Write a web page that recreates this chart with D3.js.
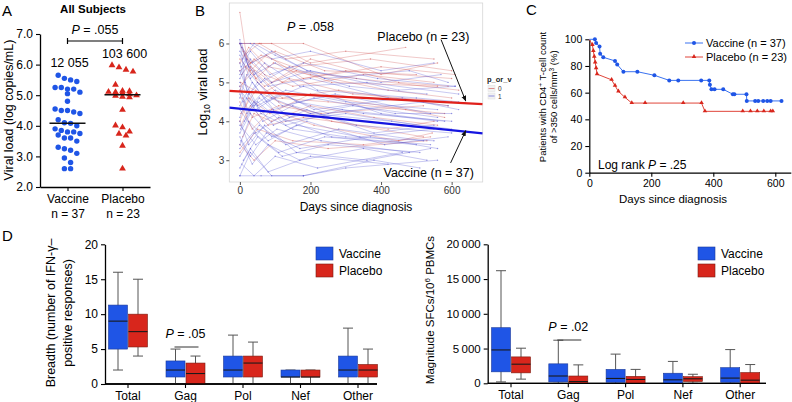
<!DOCTYPE html>
<html><head><meta charset="utf-8">
<script src="https://cdn.jsdelivr.net/npm/d3@7"></script>
<style>
body{margin:0;background:#fff}
svg{font-family:"Liberation Sans",Arial,Helvetica,sans-serif}
</style></head><body>
<svg id="chart" width="792" height="402"></svg>
<script>
// ---------------- DATA ----------------
// Panel A
const groupsA = ["Vaccine", "Placebo"];
const groupNsA = ["n = 37", "n = 23"];
const vaccineVL = [5.65,5.55,5.5,5.45,5.25,5.25,5.2,5.2,5.1,5.05,4.8,4.55,4.5,4.5,4.45,4.4,4.2,4.1,4.08,4.0,3.9,3.85,3.8,3.8,3.75,3.7,3.6,3.6,3.5,3.3,3.25,3.2,3.1,2.95,2.8,2.6,2.6];
const placeboVL = [6.0,5.93,5.85,5.79,5.36,5.16,5.15,5.13,5.12,5.1,5.05,5.015,5.0,4.97,4.95,4.54,4.03,3.97,3.83,3.76,3.7,3.37,2.62];
const mediansA = [4.081, 5.015];
const medianLabelsA = ["12 055", "103 600"];
const yTicksA = [2,3,4,5,6,7];

// Panel B (day, log10 viral load)
const placeboTraj = [
 [[0,6.0],[60,6.0],[180,6.0],[400,5.2],[560,5.5]],
 [[5,5.2],[40,5.6],[120,5.0],[300,5.3],[600,5.1]],
 [[0,4.8],[30,5.4],[90,5.0],[200,5.6],[450,5.0],[590,4.9]],
 [[10,5.8],[50,5.0],[100,4.6],[250,4.5],[580,4.2]],
 [[0,6.8],[20,5.6],[70,5.2],[150,4.9],[350,5.2],[550,5.0]],
 [[3,4.2],[45,4.8],[110,4.5],[260,4.0],[520,3.6]],
 [[0,5.5],[25,5.9],[80,5.4],[200,5.2],[420,4.8],[600,4.6]],
 [[8,3.6],[40,4.2],[90,4.0],[200,4.4],[380,4.1],[560,3.9]],
 [[0,6.0],[30,5.5],[100,5.8],[240,5.3],[500,5.2]],
 [[2,5.0],[60,4.7],[140,5.1],[320,4.7],[600,4.5]],
 [[0,4.5],[35,3.8],[90,4.3],[210,3.9],[450,3.5],[545,3.7]],
 [[12,5.7],[55,6.0],[130,5.6],[300,5.8],[550,5.6]],
 [[0,3.2],[50,3.8],[150,3.5],[350,3.4],[540,3.6]],
 [[5,5.9],[30,5.3],[75,5.7],[180,5.1],[400,5.4],[610,5.2]],
 [[0,4.9],[40,5.3],[120,4.6],[280,4.8],[590,4.4]],
 [[15,5.4],[70,4.9],[160,5.3],[330,5.1],[620,4.8]],
 [[0,4.0],[25,4.6],[85,4.2],[200,4.7],[470,4.3],[580,4.1]],
 [[0,5.6],[45,5.1],[95,5.5],[260,5.0],[560,4.9]],
 [[3,3.9],[30,4.4],[80,3.9],[180,4.1],[420,3.8],[550,4.0]],
 [[0,5.3],[60,5.7],[150,5.4],[370,5.6],[600,5.3]],
 [[7,4.6],[35,4.1],[110,4.4],[230,4.2],[520,4.4]],
 [[0,6.0],[90,6.0],[200,5.5],[470,5.9]],
 [[0,3.4],[40,3.0],[100,3.5],[250,3.3],[530,3.5]]
];
const vaccineTraj = [
 [[0,2.6],[60,2.6],[180,2.6],[300,2.8],[560,3.0]],
 [[0,5.5],[20,4.8],[60,4.2],[150,3.8],[300,3.6],[550,3.5]],
 [[5,6.0],[30,5.2],[90,4.6],[200,4.2],[430,4.0],[600,3.8]],
 [[0,4.0],[25,3.4],[70,3.9],[160,3.2],[360,3.0],[540,3.3]],
 [[0,5.8],[40,5.2],[100,5.5],[220,4.8],[500,4.6],[620,4.5]],
 [[10,3.0],[50,3.6],[120,3.1],[250,3.4],[510,3.2]],
 [[0,4.6],[20,5.2],[75,4.5],[180,4.9],[400,4.2],[580,4.0]],
 [[0,6.1],[15,5.0],[50,4.4],[130,4.8],[300,4.5],[560,4.3]],
 [[3,3.5],[35,2.9],[80,3.4],[170,3.0],[350,3.3],[530,3.0]],
 [[0,5.1],[30,5.6],[90,5.0],[200,5.3],[450,4.8],[610,4.9]],
 [[0,4.3],[45,3.7],[110,4.1],[260,3.6],[540,3.4]],
 [[8,5.6],[40,6.0],[100,5.7],[240,5.1],[480,5.3],[590,5.0]],
 [[0,2.8],[30,3.3],[80,2.7],[200,3.1],[420,2.9]],
 [[0,4.9],[20,4.3],[60,4.7],[140,4.1],[320,4.4],[560,4.1]],
 [[2,3.8],[40,4.5],[95,3.9],[190,4.3],[380,3.7],[550,3.9]],
 [[0,5.3],[25,4.7],[70,5.1],[160,4.5],[350,4.2],[600,4.0]],
 [[0,3.3],[55,3.9],[130,3.4],[280,3.8],[520,3.5]],
 [[6,5.9],[35,5.5],[90,5.8],[190,5.3],[400,5.0],[570,5.2]],
 [[0,4.1],[20,4.6],[65,4.0],[150,4.4],[330,3.9],[600,3.7]],
 [[0,3.6],[30,3.1],[75,3.7],[170,3.3],[370,3.6],[560,3.3]],
 [[0,5.0],[40,4.4],[100,4.8],[210,4.3],[460,4.6],[620,4.3]],
 [[10,4.5],[50,5.0],[120,4.4],[270,4.7],[540,4.2]],
 [[0,2.6],[30,3.2],[90,2.6],[180,2.6],[380,3.0],[510,2.8]],
 [[0,6.0],[25,5.4],[80,4.9],[200,5.1],[420,4.6],[590,4.4]],
 [[0,3.9],[45,3.4],[105,3.8],[230,3.5],[480,3.2]],
 [[4,5.4],[30,5.8],[85,5.2],[180,5.5],[390,5.1],[610,4.9]],
 [[0,4.7],[20,4.2],[55,4.6],[130,4.0],[300,4.2],[570,3.8]],
 [[0,3.1],[40,3.7],[110,3.2],[240,3.6],[500,3.4]],
 [[0,5.7],[30,5.1],[70,5.5],[170,4.9],[360,5.0],[620,4.7]],
 [[12,4.0],[50,4.5],[130,3.9],[290,4.3],[560,4.0]],
 [[0,3.4],[25,4.0],[80,3.5],[160,3.9],[340,3.6],[550,3.8]],
 [[0,4.4],[35,5.0],[95,4.3],[210,4.6],[440,4.2],[600,4.2]],
 [[0,5.2],[20,5.6],[60,5.0],[140,5.4],[310,4.9],[530,4.7]],
 [[5,2.9],[40,2.6],[100,3.1],[220,2.8],[460,3.2]],
 [[0,6.0],[30,6.0],[90,5.6],[200,5.8],[400,5.3],[550,5.5]],
 [[0,3.7],[30,4.2],[90,3.6],[190,4.0],[410,3.4],[590,3.6]],
 [[0,4.8],[45,4.3],[115,4.7],[250,4.2],[520,4.5]]
];
const placeboFit = [4.766, -0.000474]; // intercept, slope per day
const vaccineFit = [4.323, -0.000919];
const xTicksB = [0,200,400,600];
const yTicksB = [3,4,5,6];

// Panel C (day, % with CD4 > 350)
const kmVaccine = [[0,100],[18,100],[22,97.3],[33,94.6],[35,89.2],[45,86.5],[83,83.8],[90,81.1],[110,75.7],[155,75.7],[210,73],[258,69.2],[287,69.2],[361,69.2],[387,69.2],[389,65.9],[394,62.5],[404,62.5],[432,62.5],[463,58.8],[468,58.8],[507,58.8],[508,53.8],[535,53.8],[545,53.8],[561,53.8],[574,53.8],[585,53.8],[620,53.8]];
const kmPlacebo = [[0,100],[10,95.7],[13,91.3],[16,87],[19,82.6],[22,78.3],[25,73.9],[72,69.6],[83,65.2],[94,60.9],[115,56.5],[137,52.2],[180,52.2],[303,52.2],[362,52.2],[373,46],[495,46],[520,46],[542,46],[563,46],[585,46],[592,46]];
const xTicksC = [0,200,400,600];
const yTicksC = [0,20,40,60,80,100];

// Panel D  [min, q1, median, q3, max]
const categoriesD = ["Total","Gag","Pol","Nef","Other"];
const breadthVaccine = [[2,5,9,11.3,16],[0,1,2,3.3,5],[0,1,2,4,7],[0,1,1,2,2],[0,1,2,4,8]];
const breadthPlacebo = [[4,5.3,7.5,10,15],[0,0,1.5,3,4],[0,1,3,4,6],[0,1,1,2,2],[0,1,2,2.8,5]];
const magnitudeVaccine = [[200,1650,4800,8000,16200],[0,200,1050,2800,6200],[0,150,700,2000,4200],[0,0,500,1450,3150],[0,150,750,2250,4850]];
const magnitudePlacebo = [[600,1500,2750,3800,5050],[0,0,250,1050,2650],[0,0,550,1000,2000],[0,250,650,950,1300],[0,0,450,1550,2700]];
const yTicksBreadth = [0,5,10,15,20];
const yTicksMagnitude = [0,5000,10000,15000,20000];

// ---------------- STYLE ----------------
const BLUE = "#1f55e6", RED = "#d8261c";
const svg = d3.select("#chart");

function panelLabel(t, x, y) {
  svg.append("text").attr("x", x).attr("y", y).attr("font-size", 15).text(t);
}
function styleAxis(g, fs) {
  g.selectAll("path.domain").attr("stroke", "#000").attr("stroke-width", 1.3);
  g.selectAll(".tick line").attr("stroke", "#000").attr("stroke-width", 1.1);
  g.selectAll(".tick text").attr("font-size", fs).attr("fill", "#000").attr("font-family", null);
}
function pText(g, x, y, rest, fs, anchor) {
  const t = g.append("text").attr("x", x).attr("y", y).attr("font-size", fs).attr("text-anchor", anchor || "middle");
  t.append("tspan").attr("font-style", "italic").text("P");
  t.append("tspan").text(rest);
  return t;
}

// ---------------- PANEL A ----------------
panelLabel("A", 2, 16);
svg.append("text").attr("x", 93).attr("y", 13).attr("text-anchor", "middle")
  .attr("font-size", 11.5).attr("font-weight", "bold").text("All Subjects");
const aY = d3.scaleLinear().domain([2, 7]).range([187, 34]);
const aX = d3.scalePoint().domain(groupsA).range([40, 150]).padding(0.5);
const aYAxis = svg.append("g").attr("transform", "translate(40,0)")
  .call(d3.axisLeft(aY).tickValues(yTicksA).tickSize(4).tickSizeOuter(0).tickPadding(3));
styleAxis(aYAxis, 12);
const aXAxis = svg.append("g").attr("transform", "translate(0,187)")
  .call(d3.axisBottom(aX).tickSize(4).tickSizeOuter(0).tickPadding(3));
styleAxis(aXAxis, 12);
aXAxis.selectAll(".tick text").each(function(d, i) {
  const t = d3.select(this); t.text(null);
  t.append("tspan").attr("x", 0).attr("dy", "0.71em").text(d);
  t.append("tspan").attr("x", 0).attr("dy", "1.25em").text(groupNsA[i]);
});
svg.append("text").attr("transform", "translate(13,110) rotate(-90)").attr("text-anchor", "middle")
  .attr("font-size", 12.5).text("Viral load (log copies/mL)");

// Prism-style row scatter: group close values into rows, spread each row evenly
function rowScatter(values, yScale, cx, h, maxN, spacing) {
  const sorted = values.slice().sort((a, b) => b - a);
  const rows = [];
  sorted.forEach(v => {
    const r = rows[rows.length - 1];
    if (r && r[0] - v <= h && r.length < maxN) r.push(v); else rows.push([v]);
  });
  const pts = [];
  rows.forEach(r => r.forEach((v, i) => pts.push({ v, y: yScale(v), x: cx + (i - (r.length - 1) / 2) * spacing })));
  return pts;
}
const vPts = rowScatter(vaccineVL, aY, aX("Vaccine"), 0.22, 5, 6.2);
svg.append("g").selectAll("circle").data(vPts).join("circle")
  .attr("cx", d => d.x).attr("cy", d => d.y).attr("r", 2.7).attr("fill", BLUE);
const pPts = rowScatter(placeboVL, aY, aX("Placebo"), 0.22, 5, 7);
svg.append("g").selectAll("path").data(pPts).join("path")
  .attr("transform", d => `translate(${d.x},${d.y + 0.6})`)
  .attr("d", d3.symbol(d3.symbolTriangle).size(20)).attr("fill", RED);
groupsA.forEach((gname, i) => {
  const cx = aX(gname);
  svg.append("line").attr("x1", cx - 18).attr("x2", cx + 18)
    .attr("y1", aY(mediansA[i])).attr("y2", aY(mediansA[i])).attr("stroke", "#111").attr("stroke-width", 1.6);
});
svg.append("text").attr("x", aX("Vaccine") + 2).attr("y", 67).attr("text-anchor", "middle").attr("font-size", 12.5).text(medianLabelsA[0]);
svg.append("text").attr("x", aX("Placebo") + 2).attr("y", 58).attr("text-anchor", "middle").attr("font-size", 12.5).text(medianLabelsA[1]);
const brY = 41;
svg.append("path").attr("d", `M${aX("Vaccine")},${brY - 3}V${brY + 3}M${aX("Vaccine")},${brY}H${aX("Placebo")}M${aX("Placebo")},${brY - 3}V${brY + 3}`)
  .attr("stroke", "#000").attr("stroke-width", 1.2).attr("fill", "none");
pText(svg, (aX("Vaccine") + aX("Placebo")) / 2, 34, " = .055", 12.5);

// ---------------- PANEL B ----------------
panelLabel("B", 195, 16);
const bX = d3.scaleLinear().domain([-30, 688]).range([229.3, 482.7]);
const bY = d3.scaleLinear().domain([2.44, 7.04]).range([182, 3]);
svg.append("rect").attr("x", 229.3).attr("y", 3).attr("width", 253.4).attr("height", 179)
  .attr("fill", "#fff").attr("stroke", "#d6d6d6").attr("stroke-width", 0.8);
svg.append("clipPath").attr("id", "bclip").append("rect")
  .attr("x", 229.3).attr("y", 3).attr("width", 253.4).attr("height", 179);
const bG = svg.append("g").attr("clip-path", "url(#bclip)");
const lineB = d3.line().x(d => bX(d[0])).y(d => bY(d[1]));
function drawTraj(data, color) {
  bG.append("g").selectAll("path").data(data).join("path")
    .attr("d", lineB).attr("fill", "none").attr("stroke", color).attr("stroke-width", 0.6).attr("stroke-opacity", 0.5);
  bG.append("g").selectAll("circle").data(data.flat()).join("circle")
    .attr("cx", d => bX(d[0])).attr("cy", d => bY(d[1])).attr("r", 0.7).attr("fill", color).attr("fill-opacity", 0.55);
}
drawTraj(placeboTraj, "#cc4a4a");
drawTraj(vaccineTraj, "#4a4ad0");
const [bx0, bx1] = bX.domain();
function fitLine(fit, color) {
  bG.append("line").attr("x1", bX(bx0)).attr("x2", bX(bx1))
    .attr("y1", bY(fit[0] + fit[1] * bx0)).attr("y2", bY(fit[0] + fit[1] * bx1))
    .attr("stroke", color).attr("stroke-width", 2.2);
}
fitLine(placeboFit, "#e0201b");
fitLine(vaccineFit, "#1515e0");
const bXAxis = svg.append("g").attr("transform", "translate(0,182)")
  .call(d3.axisBottom(bX).tickValues(xTicksB).tickSize(3).tickSizeOuter(0).tickPadding(2).tickFormat(d3.format("d")));
bXAxis.select("path.domain").remove();
bXAxis.selectAll(".tick line").attr("stroke", "#555");
bXAxis.selectAll(".tick text").attr("font-size", 10).attr("fill", "#333").attr("font-family", null);
const bYAxis = svg.append("g").attr("transform", "translate(229.3,0)")
  .call(d3.axisLeft(bY).tickValues(yTicksB).tickSize(3).tickSizeOuter(0).tickPadding(2).tickFormat(d3.format("d")));
bYAxis.select("path.domain").remove();
bYAxis.selectAll(".tick line").attr("stroke", "#555");
bYAxis.selectAll(".tick text").attr("font-size", 10).attr("fill", "#333").attr("font-family", null);
const bYl = svg.append("text").attr("transform", "translate(207,92) rotate(-90)").attr("text-anchor", "middle").attr("font-size", 13);
bYl.append("tspan").text("Log");
bYl.append("tspan").attr("font-size", 8.5).attr("dy", 3).text("10");
bYl.append("tspan").attr("dy", -3).text(" viral load");
svg.append("text").attr("x", 356).attr("y", 211).attr("text-anchor", "middle").attr("font-size", 12).text("Days since diagnosis");
pText(svg, bX(200), 31, " = .058", 12.5);
svg.append("text").attr("x", bX(520)).attr("y", 41).attr("text-anchor", "middle").attr("font-size", 12.5).text("Placebo (n = 23)");
svg.append("text").attr("x", bX(535)).attr("y", 177).attr("text-anchor", "middle").attr("font-size", 12.5).text("Vaccine (n = 37)");
svg.append("defs").append("marker").attr("id", "arr").attr("viewBox", "0 0 10 10").attr("refX", 9).attr("refY", 5)
  .attr("markerWidth", 6).attr("markerHeight", 6).attr("orient", "auto-start-reverse")
  .append("path").attr("d", "M0,1L10,5L0,9Z").attr("fill", "#111");
svg.append("line").attr("x1", bX(570)).attr("y1", bY(6.1)).attr("x2", bX(640)).attr("y2", bY(4.52))
  .attr("stroke", "#111").attr("stroke-width", 1).attr("marker-end", "url(#arr)");
svg.append("line").attr("x1", bX(597)).attr("y1", bY(2.93)).attr("x2", bX(640)).attr("y2", bY(3.76))
  .attr("stroke", "#111").attr("stroke-width", 1).attr("marker-end", "url(#arr)");
svg.append("text").attr("x", 487).attr("y", 82).attr("font-size", 7.5).attr("font-weight", "bold").attr("fill", "#222").text("p_or_v");
[["0", "#cc4a4a"], ["1", "#4a4ad0"]].forEach((k, i) => {
  const y0 = 85.5 + i * 7.5;
  svg.append("rect").attr("x", 488).attr("y", y0).attr("width", 7).attr("height", 6).attr("fill", "#f2f2f2").attr("stroke", "#ddd").attr("stroke-width", 0.5);
  svg.append("line").attr("x1", 488.5).attr("x2", 494.5).attr("y1", y0 + 3).attr("y2", y0 + 3).attr("stroke", k[1]).attr("stroke-width", 0.6);
  svg.append("text").attr("x", 498).attr("y", y0 + 5.5).attr("font-size", 6.5).attr("fill", "#333").text(k[0]);
});

// ---------------- PANEL C ----------------
panelLabel("C", 526, 15);
const cX = d3.scaleLinear().domain([0, 650]).range([589.3, 790.8]);
const cY = d3.scaleLinear().domain([0, 100]).range([172.7, 39.3]);
const cXAxis = svg.append("g").attr("transform", "translate(0,172.7)")
  .call(d3.axisBottom(cX).tickValues(xTicksC).tickSize(4).tickSizeOuter(0).tickPadding(3));
styleAxis(cXAxis, 10.5);
const cYAxis = svg.append("g").attr("transform", "translate(589.3,0)")
  .call(d3.axisLeft(cY).tickValues(yTicksC).tickSize(4).tickSizeOuter(0).tickPadding(3));
styleAxis(cYAxis, 10.5);
cXAxis.select("path.domain").attr("stroke-width", 1.2);
cYAxis.select("path.domain").attr("stroke-width", 1.2);
const lineC = d3.line().x(d => cX(d[0])).y(d => cY(d[1]));
svg.append("path").datum(kmPlacebo).attr("d", lineC).attr("fill", "none").attr("stroke", "#e0453a").attr("stroke-width", 1);
svg.append("path").datum(kmVaccine).attr("d", lineC).attr("fill", "none").attr("stroke", "#3a72f0").attr("stroke-width", 1);
svg.append("g").selectAll("path").data(kmPlacebo.slice(1)).join("path")
  .attr("transform", d => `translate(${cX(d[0])},${cY(d[1]) - 0.3})`)
  .attr("d", d3.symbol(d3.symbolTriangle).size(9)).attr("fill", "#d8261c");
svg.append("g").selectAll("circle").data(kmVaccine.slice(1)).join("circle")
  .attr("cx", d => cX(d[0])).attr("cy", d => cY(d[1])).attr("r", 2).attr("fill", "#1f55e6");
const cYl = svg.append("text").attr("transform", "translate(546,97) rotate(-90)").attr("text-anchor", "middle").attr("font-size", 9.5);
cYl.append("tspan").text("Patients with CD4");
cYl.append("tspan").attr("font-size", 6.5).attr("dy", -3.5).text("+");
cYl.append("tspan").attr("dy", 3.5).text(" T-cell count");
const cYl2 = svg.append("text").attr("transform", "translate(557,97) rotate(-90)").attr("text-anchor", "middle").attr("font-size", 9.5);
cYl2.append("tspan").text("of >350 cells/mm");
cYl2.append("tspan").attr("font-size", 6.5).attr("dy", -3.5).text("3");
cYl2.append("tspan").attr("dy", 3.5).text(" (%)");
svg.append("text").attr("x", 673).attr("y", 203).attr("text-anchor", "middle").attr("font-size", 11.5).text("Days since diagnosis");
const lr = svg.append("text").attr("x", 598).attr("y", 169).attr("font-size", 12);
lr.append("tspan").text("Log rank ");
lr.append("tspan").attr("font-style", "italic").text("P");
lr.append("tspan").text(" = .25");
[["Vaccine (n = 37)", "#3a72f0", "c", 43], ["Placebo (n = 23)", "#e0453a", "t", 57]].forEach(k => {
  svg.append("line").attr("x1", 685).attr("x2", 703).attr("y1", k[3]).attr("y2", k[3]).attr("stroke", k[1]).attr("stroke-width", 1);
  if (k[2] === "c") svg.append("circle").attr("cx", 694).attr("cy", k[3]).attr("r", 2).attr("fill", "#1f55e6");
  else svg.append("path").attr("transform", `translate(694,${k[3] - 0.3})`).attr("d", d3.symbol(d3.symbolTriangle).size(9)).attr("fill", "#d8261c");
  svg.append("text").attr("x", 706).attr("y", k[3] + 4).attr("font-size", 11).text(k[0]);
});

// ---------------- PANEL D ----------------
panelLabel("D", 2, 241);
function boxPanel(cfg) {
  const x = d3.scaleBand().domain(categoriesD).range(cfg.xr).paddingInner(0);
  const y = d3.scaleLinear().domain(cfg.ydom).range(cfg.yr);
  const g = svg.append("g");
  const xa = g.append("g").attr("transform", `translate(0,${cfg.yr[0]})`)
    .call(d3.axisBottom(x).tickSize(4).tickSizeOuter(0).tickPadding(3));
  xa.select("path.domain").attr("d", `M${cfg.axisX[0]},0H${cfg.axisX[1]}`);
  styleAxis(xa, 12);
  const ya = g.append("g").attr("transform", `translate(${cfg.axisX[0]},0)`)
    .call(d3.axisLeft(y).tickValues(cfg.ticks).tickSize(4).tickSizeOuter(0).tickPadding(3).tickFormat(cfg.fmt));
  styleAxis(ya, cfg.fs);
  const bw = 19;
  [[cfg.vac, BLUE, "#1b3a99", -1], [cfg.pla, RED, "#7a1d12", 1]].forEach(s => {
    const gg = g.append("g").selectAll("g").data(s[0].map((d, i) => ({ d, c: categoriesD[i] }))).join("g")
      .attr("transform", o => {
        const cx = x(o.c) + x.bandwidth() / 2;
        return `translate(${s[3] < 0 ? cx - bw - 0.5 : cx + 0.5},0)`;
      });
    gg.append("line").attr("x1", bw / 2).attr("x2", bw / 2).attr("y1", o => y(o.d[0])).attr("y2", o => y(o.d[4]))
      .attr("stroke", "#555").attr("stroke-width", 1);
    gg.append("line").attr("x1", bw / 2 - 5).attr("x2", bw / 2 + 5).attr("y1", o => y(o.d[4])).attr("y2", o => y(o.d[4]))
      .attr("stroke", "#555").attr("stroke-width", 1);
    gg.append("line").attr("x1", bw / 2 - 5).attr("x2", bw / 2 + 5).attr("y1", o => y(o.d[0])).attr("y2", o => y(o.d[0]))
      .attr("stroke", "#555").attr("stroke-width", 1);
    gg.append("rect").attr("x", 0).attr("width", bw).attr("y", o => y(o.d[3])).attr("height", o => Math.max(0.5, y(o.d[1]) - y(o.d[3])))
      .attr("fill", s[1]).attr("stroke", s[2]).attr("stroke-width", 0.6);
    gg.append("line").attr("x1", 0).attr("x2", bw).attr("y1", o => y(o.d[2])).attr("y2", o => y(o.d[2]))
      .attr("stroke", "#1a1a1a").attr("stroke-width", 1.1);
  });
  g.append("line").attr("x1", cfg.axisX[0]).attr("x2", cfg.axisX[1]).attr("y1", cfg.yr[0]).attr("y2", cfg.yr[0]).attr("stroke", "#000").attr("stroke-width", 1.3);
  [["Vaccine", BLUE, "#1b3a99"], ["Placebo", RED, "#7a1d12"]].forEach((k, i) => {
    const yy = 247 + i * 17;
    g.append("rect").attr("x", cfg.legX).attr("y", yy).attr("width", 17).attr("height", 13).attr("fill", k[1]).attr("stroke", k[2]).attr("stroke-width", 0.6);
    g.append("text").attr("x", cfg.legX + 23).attr("y", yy + 11).attr("font-size", 12).text(k[0]);
  });
  const gc = x("Gag") + x.bandwidth() / 2;
  g.append("line").attr("x1", gc - 11).attr("x2", gc + 13).attr("y1", cfg.pY + 9).attr("y2", cfg.pY + 9).attr("stroke", "#333").attr("stroke-width", 1);
  pText(g, gc, cfg.pY, cfg.pText, 12.5);
  return g;
}
boxPanel({ xr: [99.25, 386.75], axisX: [105, 377], ydom: [0, 20], yr: [384, 244.3], ticks: yTicksBreadth,
  fmt: d3.format("d"), fs: 12, vac: breadthVaccine, pla: breadthPlacebo, legX: 316, pY: 338, pText: " = .05" });
boxPanel({ xr: [482.35, 768.85], axisX: [487.7, 766], ydom: [0, 20000], yr: [383.3, 244.3], ticks: yTicksMagnitude,
  fmt: d => d3.format(",")(d).replace(",", "\u2009"), fs: 11.5, vac: magnitudeVaccine, pla: magnitudePlacebo, legX: 698, pY: 331, pText: " = .02" });
svg.append("text").attr("transform", "translate(55,313) rotate(-90)").attr("text-anchor", "middle").attr("font-size", 12.5).text("Breadth (number of IFN-γ–");
svg.append("text").attr("transform", "translate(72,313) rotate(-90)").attr("text-anchor", "middle").attr("font-size", 12.5).text("positive responses)");
const dYr = svg.append("text").attr("transform", "translate(434,310) rotate(-90)").attr("text-anchor", "middle").attr("font-size", 11.5);
dYr.append("tspan").text("Magnitude SFCs/10");
dYr.append("tspan").attr("font-size", 8).attr("dy", -4).text("6");
dYr.append("tspan").attr("dy", 4).text(" PBMCs");
</script>
</body></html>
